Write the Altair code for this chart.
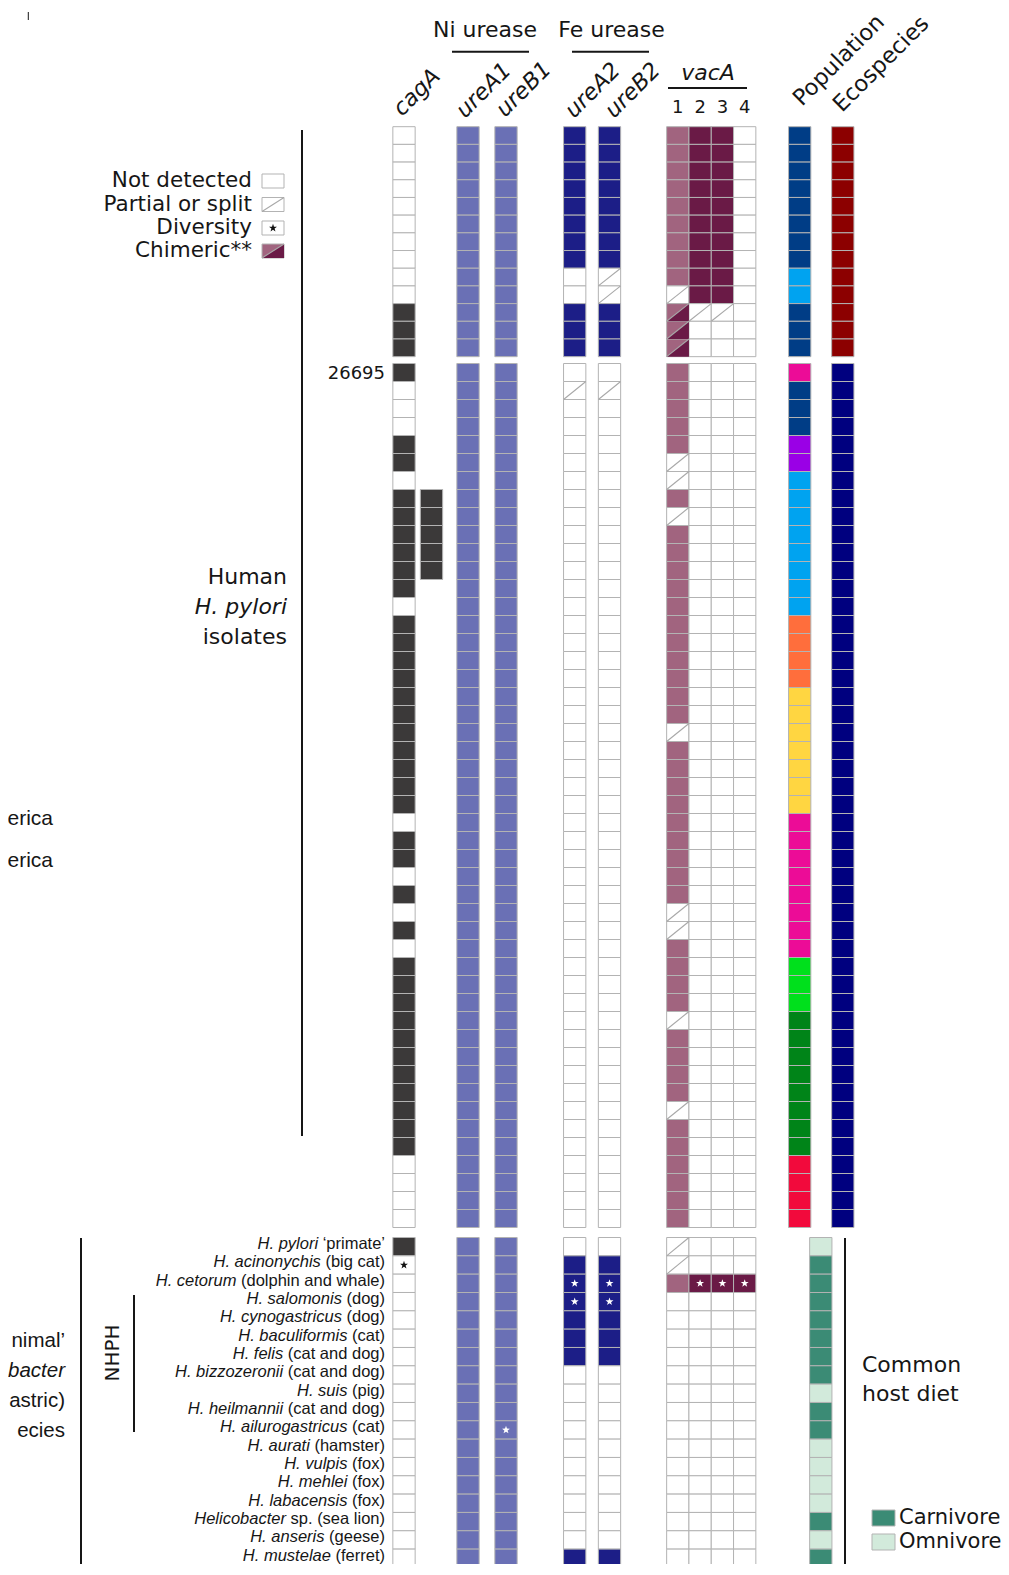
import altair as alt
import pandas as pd

# ---------------------------------------------------------------- data
# status codes: F present, N not detected, P partial or split, C chimeric,
# S present with diversity (*), D not detected with diversity (*), - no cell
COLS = ["cagA", "cagA_2", "ureA1", "ureB1", "ureA2", "ureB2",
        "vacA1", "vacA2", "vacA3", "vacA4"]

# group 1: ecospecies isolates (13 rows)
hardy = {
    "cagA":   list("NNNNNNNNNNFFF"),
    "cagA_2": list("-------------"),
    "ureA1":  list("FFFFFFFFFFFFF"),
    "ureB1":  list("FFFFFFFFFFFFF"),
    "ureA2":  list("FFFFFFFFNNFFF"),
    "ureB2":  list("FFFFFFFFPPFFF"),
    "vacA1":  list("FFFFFFFFFPCCC"),
    "vacA2":  list("FFFFFFFFFFPNN"),
    "vacA3":  list("FFFFFFFFFFPNN"),
    "vacA4":  list("NNNNNNNNNNNNN"),
}
hardy_pop = list("BBBBBBBBLLBBB")
hardy_eco = list("HHHHHHHHHHHHH")

# group 2: human H. pylori isolates (48 rows)
human = {
    "cagA":   list("F" "NNN" "FF" "N" "FFFFFF" "N" "FFFFFFFFFFF" "N" "FF" "N"
                   "F" "N" "F" "N" "FFFFFFFFFFF" "NNNN"),
    "cagA_2": list("-------" "FFFFF" "----------" "----------" "----------" "------"),
    "ureA1":  list("FFFFFFFFFF" "FFFFFFFFFF" "FFFFFFFFFF" "FFFFFFFFFF" "FFFFFFFF"),
    "ureB1":  list("FFFFFFFFFF" "FFFFFFFFFF" "FFFFFFFFFF" "FFFFFFFFFF" "FFFFFFFF"),
    "ureA2":  list("NP" "NNNNNNNNNN" "NNNNNNNNNN" "NNNNNNNNNN" "NNNNNNNNNN" "NNNNNN"),
    "ureB2":  list("NP" "NNNNNNNNNN" "NNNNNNNNNN" "NNNNNNNNNN" "NNNNNNNNNN" "NNNNNN"),
    "vacA1":  list("FFFFF" "PP" "F" "P" "FFFFFFFFFFF" "P" "FFFFFFFFF" "PP" "FFFF"
                   "P" "FFFF" "P" "FFFFFF"),
    "vacA2":  list("NNNNNNNNNN" "NNNNNNNNNN" "NNNNNNNNNN" "NNNNNNNNNN" "NNNNNNNN"),
    "vacA3":  list("NNNNNNNNNN" "NNNNNNNNNN" "NNNNNNNNNN" "NNNNNNNNNN" "NNNNNNNN"),
    "vacA4":  list("NNNNNNNNNN" "NNNNNNNNNN" "NNNNNNNNNN" "NNNNNNNNNN" "NNNNNNNN"),
}
human_pop = list("M" "BBB" "PP" "LLLLLLLL" "OOOO" "YYYYYYY" "MMMMMMMM" "GGG"
                 "DDDDDDDD" "RRRR")
human_eco = list("EEEEEEEEEE" "EEEEEEEEEE" "EEEEEEEEEE" "EEEEEEEEEE" "EEEEEEEE")

# group 3: animal Helicobacter species (18 rows)
nhph_species = ["H. pylori", "H. acinonychis", "H. cetorum", "H. salomonis",
                "H. cynogastricus", "H. baculiformis", "H. felis", "H. bizzozeronii",
                "H. suis", "H. heilmannii", "H. ailurogastricus", "H. aurati",
                "H. vulpis", "H. mehlei", "H. labacensis", "Helicobacter",
                "H. anseris", "H. mustelae"]
nhph_host = ["\u2018primate\u2019", "(big cat)", "(dolphin and whale)", "(dog)", "(dog)",
             "(cat)", "(cat and dog)", "(cat and dog)", "(pig)", "(cat and dog)",
             "(cat)", "(hamster)", "(fox)", "(fox)", "(fox)", "sp. (sea lion)",
             "(geese)", "(ferret)"]
nhph = {
    "cagA":   list("FD" "NNNNNNNN" "NNNNNNNN"),
    "cagA_2": list("---------" "---------"),
    "ureA1":  list("FFFFFFFFF" "FFFFFFFFF"),
    "ureB1":  list("FFFFFFFFFF" "S" "FFFFFFF"),
    "ureA2":  list("NFSSFFF" "NNNNNNNNNN" "F"),
    "ureB2":  list("NFSSFFF" "NNNNNNNNNN" "F"),
    "vacA1":  list("PPF" "NNNNN" "NNNNN" "NNNNN"),
    "vacA2":  list("NNS" "NNNNN" "NNNNN" "NNNNN"),
    "vacA3":  list("NNS" "NNNNN" "NNNNN" "NNNNN"),
    "vacA4":  list("NNS" "NNNNN" "NNNNN" "NNNNN"),
}
nhph_diet = list("OCCCCCCCOCCOOOOCOC")

POP_NAMES = {"B": "hspSiberia", "L": "hspIndigenousNAmerica", "M": "hpEurope",
             "P": "hpAsia2", "O": "hpNEAfrica", "Y": "hpAfrica1",
             "G": "hspSWEurope", "D": "hspEAsia", "R": "hpAfrica2"}
ECO_NAMES = {"H": "Hardy", "E": "Ecospecies pylori"}
DIET_NAMES = {"C": "Carnivore", "O": "Omnivore"}

# ---------------------------------------------------------------- styles / layout
COLOR_MAP = {
    "absent": "#ffffff", "cagA": "#3b3939", "ureNi": "#6a70b5", "ureFe": "#1c1e87",
    "vacA1": "#a1647f", "vacA2-4": "#6a1a46",
    "hspSiberia": "#003d86", "hspIndigenousNAmerica": "#00a3f0", "hpEurope": "#ec0c97",
    "hpAsia2": "#9a00e6", "hpNEAfrica": "#ff6e3c", "hpAfrica1": "#ffd641",
    "hspSWEurope": "#00e01c", "hspEAsia": "#008418", "hpAfrica2": "#f20a3c",
    "Hardy": "#8c0000", "Ecospecies pylori": "#00007f",
    "Carnivore": "#3b8b75", "Omnivore": "#d2eadb",
}
PRESENT_KEY = {"cagA": "cagA", "cagA_2": "cagA", "ureA1": "ureNi", "ureB1": "ureNi",
               "ureA2": "ureFe", "ureB2": "ureFe", "vacA1": "vacA1",
               "vacA2": "vacA2-4", "vacA3": "vacA2-4", "vacA4": "vacA2-4"}
COL_CENTER = {"cagA": 404.0, "cagA_2": 431.5, "ureA1": 468.0, "ureB1": 506.0,
              "ureA2": 574.7, "ureB2": 609.5, "vacA1": 677.8, "vacA2": 700.1,
              "vacA3": 722.4, "vacA4": 744.7, "Population": 799.7,
              "Ecospecies": 842.8, "Diet": 820.8}
CELL_W = 22.3
GROUPS = {"hardy": (126.7, 17.69, 13), "human": (363.5, 18.0, 48),
          "nhph": (1237.5, 18.33, 18)}
BIG = "DejaVu Sans"
SMALL = "Liberation Sans"
INK = "#161616"
GRID = "#b3b3b3"

# ---------------------------------------------------------------- build tables
cells, diags, tris, stars_w, stars_b = [], [], [], [], []


def box(col, group, r):
    top, rh, _ = GROUPS[group]
    xc = COL_CENTER[col]
    return xc - CELL_W / 2, xc + CELL_W / 2, top + r * rh, top + (r + 1) * rh


def add_gene_cells(group, table):
    n = GROUPS[group][2]
    for col in COLS:
        for r, code in zip(range(n), table[col]):
            if code == "-":
                continue
            x0, x1, y0, y1 = box(col, group, r)
            key = PRESENT_KEY[col] if code in "FSC" else "absent"
            cells.append(dict(x=x0, x2=x1, y=y0, y2=y1, k=key))
            if code in "PC":
                diags.append(dict(x=x0, x2=x1, y=y1, y2=y0))
            if code == "C":
                tris.append(dict(x=(x0 + x1) / 2, y=(y0 + y1) / 2))
            if code == "S":
                stars_w.append(dict(x=(x0 + x1) / 2, y=(y0 + y1) / 2))
            if code == "D":
                stars_b.append(dict(x=(x0 + x1) / 2, y=(y0 + y1) / 2))


def add_cat_cells(group, col, codes, names):
    n = GROUPS[group][2]
    for r, code in zip(range(n), codes):
        x0, x1, y0, y1 = box(col, group, r)
        cells.append(dict(x=x0, x2=x1, y=y0, y2=y1, k=names[code]))


add_gene_cells("hardy", hardy)
add_gene_cells("human", human)
add_gene_cells("nhph", nhph)
add_cat_cells("hardy", "Population", hardy_pop, POP_NAMES)
add_cat_cells("hardy", "Ecospecies", hardy_eco, ECO_NAMES)
add_cat_cells("human", "Population", human_pop, POP_NAMES)
add_cat_cells("human", "Ecospecies", human_eco, ECO_NAMES)
add_cat_cells("nhph", "Diet", nhph_diet, DIET_NAMES)

# legend icons (top left) and diet legend (bottom right)
LEG_X0, LEG_X1, LEG_H = 262.0, 284.0, 14.0
legend_items = [("Not detected", 181.0, "N"), ("Partial or split", 204.5, "P"),
                ("Diversity", 228.0, "D"), ("Chimeric**", 251.0, "C")]
leg_tris = []
for label, yc, code in legend_items:
    y0, y1 = yc - LEG_H / 2, yc + LEG_H / 2
    cells.append(dict(x=LEG_X0, x2=LEG_X1, y=y0, y2=y1,
                      k="vacA1" if code == "C" else "absent"))
    if code in "PC":
        diags.append(dict(x=LEG_X0, x2=LEG_X1, y=y1, y2=y0))
    if code == "C":
        leg_tris.append(dict(x=(LEG_X0 + LEG_X1) / 2, y=yc))
    if code == "D":
        stars_b.append(dict(x=(LEG_X0 + LEG_X1) / 2, y=yc))

diet_legend = [("Carnivore", 1518.0), ("Omnivore", 1542.0)]
for label, yc in diet_legend:
    cells.append(dict(x=872.0, x2=895.0, y=yc - 8, y2=yc + 8, k=label))

cells = pd.DataFrame(cells)
diags = pd.DataFrame(diags)
tris = pd.DataFrame(tris)
leg_tris = pd.DataFrame(leg_tris)
stars_w = pd.DataFrame(stars_w)
stars_b = pd.DataFrame(stars_b)

# ---------------------------------------------------------------- scales
W, H = 993, 1556
xs = alt.Scale(domain=[8, 8 + W], nice=False, zero=False)
ys = alt.Scale(domain=[8, 8 + H], nice=False, zero=False, reverse=True)
X = alt.X("x:Q", scale=xs, axis=None)
Y = alt.Y("y:Q", scale=ys, axis=None)
X2 = alt.X2("x2")
Y2 = alt.Y2("y2")


def tri_path(h):
    # lower-right half of a cell, in the unit square used by symbol shapes
    return f"M-1,{h:.4f}L1,{h:.4f}L1,{-h:.4f}Z"


STAR_PATH = ("M0,-1L0.235,-0.324L0.951,-0.309L0.380,0.124L0.588,0.809L0,0.4"
             "L-0.588,0.809L-0.380,0.124L-0.951,-0.309L-0.235,-0.324Z")

layers = []

layers.append(
    alt.Chart(cells).mark_rect(stroke=GRID, strokeWidth=1).encode(
        x=X, x2=X2, y=Y, y2=Y2,
        color=alt.Color("k:N", legend=None,
                        scale=alt.Scale(domain=list(COLOR_MAP.keys()),
                                        range=list(COLOR_MAP.values())))))

# chimeric: dark lower-right triangle
layers.append(
    alt.Chart(tris).mark_point(shape=tri_path(GROUPS["hardy"][1] / CELL_W),
                               size=CELL_W ** 2, filled=True, opacity=1,
                               color=COLOR_MAP["vacA2-4"], strokeWidth=0)
    .encode(x=X, y=Y))
layers.append(
    alt.Chart(leg_tris).mark_point(shape=tri_path(LEG_H / (LEG_X1 - LEG_X0)),
                                   size=(LEG_X1 - LEG_X0) ** 2, filled=True, opacity=1,
                                   color=COLOR_MAP["vacA2-4"], strokeWidth=0)
    .encode(x=X, y=Y))

layers.append(
    alt.Chart(diags).mark_rule(color="#a8a8a8", strokeWidth=1.1).encode(
        x=X, x2=X2, y=Y, y2=Y2))

layers.append(
    alt.Chart(stars_w).mark_point(shape=STAR_PATH, filled=True, color="#ffffff",
                                  size=70, opacity=1, strokeWidth=0).encode(x=X, y=Y))
layers.append(
    alt.Chart(stars_b).mark_point(shape=STAR_PATH, filled=True, color="#111111",
                                  size=70, opacity=1, strokeWidth=0).encode(x=X, y=Y))

# ---------------------------------------------------------------- lines
lines = pd.DataFrame([
    dict(x=452.0, x2=529.0, y=51.7, y2=51.7),     # Ni urease
    dict(x=572.0, x2=649.0, y=51.7, y2=51.7),     # Fe urease
    dict(x=668.0, x2=747.0, y=88.0, y2=88.0),     # vacA
    dict(x=302.0, x2=302.0, y=130.0, y2=1136.0),  # human isolates bracket
    dict(x=81.0, x2=81.0, y=1238.0, y2=1570.0),   # animal species bracket
    dict(x=134.0, x2=134.0, y=1295.0, y2=1432.0), # NHPH bracket
    dict(x=845.0, x2=845.0, y=1238.0, y2=1570.0), # host diet bracket
    dict(x=28.3, x2=28.3, y=12.0, y2=20.0),       # stray tick
])
lines["w"] = [2, 2, 2, 2, 2, 2, 2, 1]
layers.append(alt.Chart(lines).mark_rule(color=INK).encode(
    x=X, x2=X2, y=Y, y2=Y2,
    strokeWidth=alt.StrokeWidth("w:Q", scale=None)))


# ---------------------------------------------------------------- texts
def text_layer(rows, **mk):
    df = pd.DataFrame(rows, columns=["x", "y", "t"])
    base = dict(color=INK, font=BIG, fontSize=22)
    base.update(mk)
    return alt.Chart(df).mark_text(**base).encode(x=X, y=Y, text="t:N")


layers.append(text_layer([(485.0, 37.0, "Ni urease"), (611.5, 37.0, "Fe urease")],
                         align="center", baseline="alphabetic"))
layers.append(text_layer([(708.0, 80.0, "vacA")], align="center",
                         baseline="alphabetic", fontStyle="italic"))
layers.append(text_layer([(COL_CENTER["vacA1"], 113.0, "1"), (COL_CENTER["vacA2"], 113.0, "2"),
                          (COL_CENTER["vacA3"], 113.0, "3"), (COL_CENTER["vacA4"], 113.0, "4")],
                         align="center", baseline="alphabetic", fontSize=18))
layers.append(text_layer([(402.0, 117.0, "cagA"), (465.0, 119.0, "ureA1"),
                          (505.0, 118.0, "ureB1"), (574.0, 119.0, "ureA2"),
                          (614.0, 119.0, "ureB2")],
                         align="left", baseline="alphabetic", angle=315,
                         fontStyle="italic", fontSize=22.5))
layers.append(text_layer([(802.0, 107.0, "Population"), (842.0, 113.0, "Ecospecies")],
                         align="left", baseline="alphabetic", angle=315, fontSize=22.5))
layers.append(text_layer([(252.0, yc, lab) for lab, yc, _ in legend_items],
                         align="right", baseline="middle", fontSize=21.5))
layers.append(text_layer([(385.0, GROUPS["human"][0] + GROUPS["human"][1] / 2 + 1, "26695")],
                         align="right", baseline="middle", fontSize=18))
layers.append(text_layer([(287.0, 577.0, "Human"), (287.0, 637.0, "isolates")],
                         align="right", baseline="middle"))
layers.append(text_layer([(287.0, 607.0, "H. pylori")], align="right",
                         baseline="middle", fontStyle="italic"))
layers.append(text_layer([(53.0, 819.0, "erica"), (53.0, 861.0, "erica")],
                         align="right", baseline="middle", font=SMALL, fontSize=21))
layers.append(text_layer([(65.0, 1341.0, "nimal\u2019"), (65.0, 1401.0, "astric)"),
                          (65.0, 1431.0, "ecies")], align="right", baseline="middle",
                         font=SMALL, fontSize=20.5))
layers.append(text_layer([(65.0, 1371.0, "bacter")], align="right", baseline="middle",
                         font=SMALL, fontSize=20.5, fontStyle="italic"))
layers.append(text_layer([(112.5, 1353.0, "NHPH")], align="center", baseline="middle",
                         angle=270, fontSize=20))
layers.append(text_layer([(862.0, 1372.0, "Common"), (862.0, 1401.0, "host diet")],
                         align="left", baseline="alphabetic"))
layers.append(text_layer([(899.0, yc, lab) for lab, yc in diet_legend],
                         align="left", baseline="middle", fontSize=21))

# species labels: italic name + regular host, right aligned at the cagA column
ARIAL_W = {" ": 278, "(": 333, ")": 333, ".": 278, "\u2018": 222, "\u2019": 222,
           "a": 556, "b": 556, "c": 500, "d": 556, "e": 556, "f": 278, "g": 556,
           "h": 556, "i": 222, "l": 222, "m": 833, "n": 556, "o": 556, "p": 556,
           "r": 333, "s": 500, "t": 278, "w": 722, "x": 500}
SP_SIZE = 16.5
SP_RIGHT = 385.0
SP_LIFT = 2.5   # labels sit slightly above the row centre


def text_w(s):
    return sum(ARIAL_W.get(c, 556) for c in s) * SP_SIZE / 1000.0


top3, rh3, _ = GROUPS["nhph"]
host_rows, sp_rows = [], []
for r, (sp, host) in enumerate(zip(nhph_species, nhph_host)):
    yc = top3 + (r + 0.5) * rh3 - SP_LIFT
    host_rows.append((SP_RIGHT, yc, host))
    sp_rows.append((SP_RIGHT - text_w(host) - text_w(" "), yc, sp))
layers.append(text_layer(host_rows, align="right", baseline="middle", font=SMALL,
                         fontSize=SP_SIZE))
layers.append(text_layer(sp_rows, align="right", baseline="middle", font=SMALL,
                         fontSize=SP_SIZE, fontStyle="italic"))

chart = alt.layer(*layers).properties(
    width=W, height=H, padding=0, background="#ffffff",
    autosize=alt.AutoSizeParams(type="none"),
).configure_view(stroke=None)

chart.save("out.html", embed_options={"renderer": "svg", "actions": False})
